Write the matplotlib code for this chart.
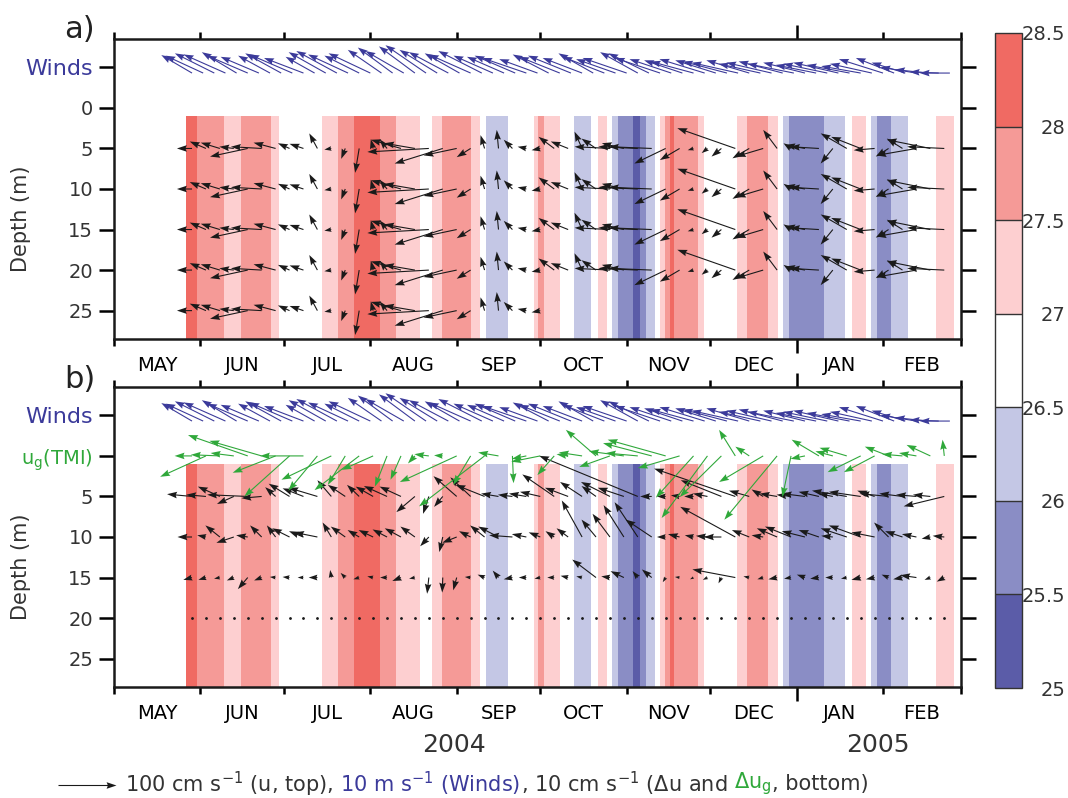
import numpy as np
import matplotlib
matplotlib.use('Agg')
import matplotlib.pyplot as plt
from matplotlib.colors import ListedColormap, BoundaryNorm
from matplotlib.cm import ScalarMappable

# ---- time axis: days since 1 May 2004
month_starts = [0, 31, 61, 92, 123, 153, 184, 214, 245, 276, 304]
month_names = ['MAY', 'JUN', 'JUL', 'AUG', 'SEP', 'OCT', 'NOV', 'DEC', 'JAN', 'FEB']
year_labels = ['2004', '2005']
year_days = [122, 274]

# ---- temperature bands (deg C), edges in days
band_edges = [25.8, 29.8, 39.5, 45.6, 56.4, 59.2, 74.7, 80.4, 86.1, 95.5,
              101.2, 109.8, 114.1, 117.7, 128.1, 131.4, 133.5, 141.4, 146.1, 147.5,
              150.8, 152.0, 154.3, 160.1, 165.1, 171.2, 173.7, 177.0, 178.8, 180.9,
              184.5, 186.3, 188.8, 191.0, 194.2, 196.0, 197.8, 199.6, 201.0, 209.6,
              211.8, 223.6, 227.2, 234.7, 238.3, 240.1, 242.1, 254.8, 262.4, 264.9,
              269.8, 271.7, 273.9, 278.9, 285.0, 295.0, 301.5]
band_temp = [28.2, 27.7, 27.2, 27.7, 27.2, 26.8, 27.2, 27.7, 28.2, 27.7,
             27.2, 26.8, 27.2, 27.7, 27.2, 26.8, 26.2, 26.8, 26.8, 26.8,
             27.2, 27.7, 27.2, 26.8, 26.2, 26.8, 27.2, 26.8, 26.2, 25.7,
             25.7, 25.2, 25.7, 26.2, 26.8, 27.2, 27.7, 28.2, 27.7, 27.2,
             26.8, 27.2, 27.7, 27.2, 26.8, 26.2, 25.7, 26.2, 26.8, 27.2,
             26.8, 26.2, 25.7, 26.2, 26.8, 27.2]
band_depth = [1.0, 28.5]
temp_levels = [25, 25.5, 26, 26.5, 27, 27.5, 28, 28.5]
temp_colors = ['#5b5ca8', '#8a8dc5', '#c4c7e5', '#ffffff', '#fdcfd0', '#f59a97', '#f06a63']

# ---- current samples (5-day)
t_obs = np.arange(28, 299, 5)

# top panel: u (cm/s)
u_top = [-26, -28, -33, -25, -65, -53, -38, -20, -24, -14,
         -12, -7, -7, -4, -13, -52, -53, -106, -83, -57,
         -24, -7, -3, -15, -15, -15, -27, -30, -13, -25,
         -61, -38, -68, -74, -54, -34, -10, -10, -17, -100,
         -29, -47, -24, -13, -34, -50, -21, -45, -51, -36,
         -22, -27, -69, -75, -64]
v_top = [0, 12, 10, 3, -14, 3, 10, 9, 8, 26,
         -2, -18, -42, 16, 16, 15, 9, -6, -26, -12,
         -15, 23, 32, 15, 3, -3, 20, 12, 29, 17,
         3, 9, 3, 3, -26, -20, -3, -8, -14, 35,
         -17, -14, 32, 9, 6, 3, -26, 26, 20, -3,
         -14, 17, -12, 15, 3]
top_depths = [5, 10, 15, 20, 25]
last_day_25m = 153

# winds (m/s), 4-day samples
t_wind = np.arange(28, 301, 4)
u_wind = [-5.3, -6.5, -6.8, -7.2, -6.0, -7.0, -6.6, -5.5, -6.2, -7.4,
          -6.8, -5.0, -6.4, -7.0, -6.9, -6.0, -7.2, -5.8, -6.0, -6.6,
          -6.2, -7.0, -6.5, -6.8, -6.0, -7.2, -7.5, -6.8, -6.4, -7.0,
          -7.6, -6.6, -6.2, -7.0, -7.4, -6.8, -6.0, -7.2, -6.8, -7.6,
          -6.5, -7.0, -7.8, -7.2, -6.6, -7.4, -7.8, -7.0, -7.6, -8.0,
          -7.4, -7.2, -7.8, -7.6, -8.0, -7.2, -7.0, -7.6, -7.8, -7.4,
          -6.8, -7.2, -7.6, -6.6, -5.8, -6.2, -5.6, -5.0, -5.2]
v_wind = [3.1, 3.0, 3.4, 3.2, 3.6, 3.0, 2.8, 3.0, 3.4, 3.2,
          2.6, 2.8, 3.6, 3.8, 3.2, 3.0, 3.4, 4.0, 4.4, 3.8,
          4.6, 4.8, 4.0, 3.6, 3.4, 3.2, 3.8, 3.0, 2.8, 3.0,
          2.6, 2.4, 3.2, 2.8, 3.0, 2.6, 3.4, 2.8, 2.4, 2.6,
          3.6, 3.4, 2.6, 2.4, 2.2, 2.0, 2.4, 2.2, 2.0, 1.8,
          2.2, 1.6, 1.8, 2.0, 1.6, 1.8, 1.4, 1.6, 1.8, 1.4,
          1.2, 1.6, 2.4, 2.6, 1.8, 1.0, 0.6, 0.2, 0.0]
wind_level = -4.3

# bottom panel: shear relative to 20 m (cm/s)
du5 = [-4.3, -3.4, -3.8, -2.9, -7.0, -3.5, -1.8, -3.6, -3.6, -5.0,
       -2.4, -3.0, -2.1, -3.0, -4.0, -3.7, -3.2, -1.0, -1.5, -4.0,
       -3.5, -5.0, -3.0, -2.5, -3.0, -3.5, -5.5, -4.0, -3.8, -2.5,
       -5.0, -4.5, -17.0, -2.0, -1.5, -1.5, -1.6, -2.5, -7.0, -14.0,
       -3.5, -2.0, -3.0, -2.5, -4.0, -3.5, -2.5, -6.0, -5.5, -3.0,
       -5.0, -4.0, -3.5, -3.0, -7.0]
dv5 = [0.4, 0.3, 1.7, -1.3, 0.3, -0.3, 1.6, 2.2, 1.4, 1.5,
       2.8, 2.0, 2.0, 1.7, 1.8, 1.7, -2.7, -3.0, -1.8, 3.5,
       3.3, 2.0, 0.5, 0.3, 0.5, 0.8, 3.8, 1.5, 2.5, 1.8,
       2.5, 1.5, 7.0, 0.0, 0.0, 0.2, 0.0, 0.5, 2.8, 4.8,
       1.0, 1.2, 0.5, 0.3, 0.5, 0.8, 0.5, 1.0, 0.8, 1.0,
       0.5, 0.5, 0.3, 0.3, -1.7]
du10 = [-2.5, -1.5, -2.5, -3.0, -2.0, -2.0, -1.5, -3.0, -2.5, -4.0,
        -1.5, -2.5, -2.0, -2.5, -2.5, -2.8, -2.5, -1.5, -0.6, -2.5,
        -2.0, -2.5, -3.5, -4.0, -2.5, -2.0, -1.5, -2.0, -3.5, -2.5,
        -3.0, -3.5, -4.0, -4.5, -1.5, -2.0, -1.5, -2.0, -3.0, -9.5,
        -3.0, -2.0, -3.5, -4.5, -4.0, -3.5, -2.0, -4.5, -5.5, -4.0,
        -2.5, -3.0, -2.5, -1.5, -2.0]
dv10 = [0.0, 0.3, 2.0, -1.0, 0.3, 2.0, 2.0, 1.5, 1.0, 0.8,
        2.5, 1.8, 1.2, 1.2, 1.3, 1.5, 1.8, -1.6, -2.6, -1.0,
        1.0, 2.0, 1.8, 0.3, 0.5, 0.8, 1.0, 1.5, 6.3, 3.0,
        4.0, 5.5, 6.0, 3.0, 0.0, 0.5, 0.3, 0.2, 0.0, 5.2,
        1.2, 0.3, 1.5, 1.8, 1.0, 1.2, 0.2, 1.5, 2.0, 0.8,
        2.5, 1.0, 0.5, -0.3, 0.2]
du15 = [-1.5, -1.3, -1.0, -1.2, -1.7, -1.3, -1.0, -1.2, -1.0, -1.5,
        -0.2, -0.8, -1.0, -1.0, -1.2, -1.5, -1.0, -0.3, -0.1, -0.6,
        -1.0, -1.2, -1.0, -1.5, -1.3, -1.0, -1.2, -1.3, -1.0, -4.1,
        -1.5, -2.3, -0.9, -1.7, -0.5, -0.8, -0.6, -0.8, -0.5, -7.4,
        -1.0, -1.0, -1.5, -1.2, -1.4, -1.5, -1.3, -1.0, -1.6, -1.5,
        -1.2, -1.6, -2.8, -1.0, -1.3]
dv15 = [-0.4, -0.4, -0.2, -0.5, -2.0, -0.5, 0.1, 0.1, 0.0, 0.0,
        1.3, 0.8, -0.3, 0.2, 0.0, -0.6, -0.2, -2.8, -2.6, -2.2,
        0.1, 0.5, 1.2, -0.3, 0.0, -0.2, 0.0, 0.3, 0.2, 3.1,
        0.2, 1.1, 1.1, 1.4, -0.8, 0.1, -0.3, -0.4, -1.0, 1.4,
        0.2, -0.3, -0.3, -0.2, 0.5, -0.2, 0.0, -0.2, -0.4, -0.3,
        0.5, -0.3, 0.4, -0.4, -0.7]
# geostrophic shear from TMI SST (cm/s)
ug = [-3.0, -7.9, -5.0, -4.0, -10.3, -9.0, -7.4, -7.8, -7.5, -5.0,
      -8.6, -3.0, -7.7, -5.4, -2.1, -1.8, -1.2, -2.5, -1.5, -9.8,
      -3.0, -11.3, -3.5, 0.2, -2.5, -5.0, -2.9, -2.0, -4.0, -5.2,
      -5.3, -6.0, -5.5, -8.4, -10.0, -7.2, -6.5, -7.9, -7.2, -2.8,
      -2.4, -7.6, -9.1, -1.5, -2.5, -4.7, -3.0, -4.7, -5.7, -5.3,
      -4.1, -3.5, -3.0, -4.1, -0.3]
vg = [0.0, -3.6, 0.2, 0.5, 3.6, 2.6, -2.9, -7.0, 0.0, -6.0,
      -4.1, -5.0, -5.9, -2.4, -5.3, -4.1, -1.3, 0.3, 0.1, -4.5,
      -5.0, -8.7, 0.6, -4.7, -0.5, -1.0, -3.3, 0.3, 0.6, 4.5,
      -1.9, 0.8, 0.5, 2.2, 2.8, -2.1, -7.2, -10.7, -7.1, 4.5,
      1.6, -4.5, -11.0, -7.1, -0.5, 2.8, 0.8, 1.4, -2.8, -2.8,
      1.6, 0.3, 0.5, 1.9, 2.8]
ref_depth = 20

wind_color = '#3b3a9a'
green = '#2fa83a'
arrow_black = '#1a1a1a'
text_gray = '#333333'

cmap = ListedColormap(temp_colors)
norm = BoundaryNorm(temp_levels, cmap.N)

fig = plt.figure(figsize=(10.68, 7.98), dpi=100)
ax_a = fig.add_axes([114/1068, 1-339/798, 847/1068, 300/798])
ax_b = fig.add_axes([114/1068, 1-687/798, 847/1068, 300/798])

month_mids = [(month_starts[i] + month_starts[i+1]) / 2 for i in range(len(month_names))]
depth_ticks = [-5, 0, 5, 10, 15, 20, 25]


def style_axis(ax, ylabels):
    ax.set_xlim(month_starts[0], month_starts[-1])
    ax.set_ylim(28.5, -8.5)
    ax.set_yticks(depth_ticks)
    ax.set_yticklabels(ylabels)
    ax.tick_params(axis='y', direction='out', length=11, width=1.8, left=True, right=True,
                   labelsize=14, labelcolor=text_gray, pad=4)
    ax.set_xticks(month_starts)
    ax.set_xticklabels([])
    ax.tick_params(axis='x', which='major', direction='out', length=5, width=1.8,
                   top=True, bottom=True)
    ax.set_xticks(month_mids, minor=True)
    ax.set_xticklabels(month_names, minor=True)
    ax.tick_params(axis='x', which='minor', length=0, labelsize=14, pad=12)
    for sp in ax.spines.values():
        sp.set_linewidth(1.8)
        sp.set_color('#1a1a1a')
    k = month_starts.index(245)
    tk = ax.xaxis.get_major_ticks()[k]
    tk.tick1line.set_markersize(10)
    tk.tick2line.set_markersize(10)
    ax.set_ylabel('Depth (m)', fontsize=15, color=text_gray)
    ax.yaxis.set_label_coords(-0.098, 0.40)
    labs = ax.get_yticklabels()
    labs[0].set_color(wind_color)
    labs[0].set_fontsize(16)


qargs = dict(angles='uv', scale_units='inches', units='inches', pivot='tail',
             width=0.011, headwidth=6, headlength=9, headaxislength=8)

for ax in (ax_a, ax_b):
    ax.pcolormesh(band_edges, band_depth, np.array([band_temp]), cmap=cmap, norm=norm)
    ax.quiver(t_wind, np.full(len(t_wind), wind_level), u_wind, v_wind,
              scale=10/0.58, color=wind_color, zorder=3, **qargs)

# panel a: velocity
ua = np.array(u_top, float)
va = np.array(v_top, float)
q_top = None
for d in top_depths:
    uu, vv = ua.copy(), va.copy()
    if d == 25:
        uu[t_obs > last_day_25m] = np.nan
        vv[t_obs > last_day_25m] = np.nan
    q = ax_a.quiver(t_obs, np.full(len(t_obs), d), np.ma.masked_invalid(uu),
                    np.ma.masked_invalid(vv), scale=100/0.58, color=arrow_black,
                    zorder=3, **qargs)
    if q_top is None:
        q_top = q

# panel b: shear
for d, uu, vv in [(5, du5, dv5), (10, du10, dv10), (15, du15, dv15)]:
    ax_b.quiver(t_obs, np.full(len(t_obs), d), uu, vv, scale=10/0.58,
                color=arrow_black, zorder=3, **qargs)
ax_b.quiver(t_obs, np.zeros(len(t_obs)), ug, vg, scale=10/0.58, color=green,
            zorder=4, **qargs)
ax_b.plot(t_obs, np.full(len(t_obs), ref_depth), ls='none', marker='o', ms=1.0,
          color=arrow_black)

style_axis(ax_a, ['Winds', '0', '5', '10', '15', '20', '25'])
style_axis(ax_b, ['Winds', 'u$_\\mathregular{g}$(TMI)', '5', '10', '15', '20', '25'])
ax_b.get_yticklabels()[1].set_color(green)

fig.text(64/1068, 1-29/798, 'a)', fontsize=22, color='#222222', va='center', ha='left')
fig.text(64/1068, 1-380/798, 'b)', fontsize=22, color='#222222', va='center', ha='left')

for lab, d in zip(year_labels, year_days):
    ax_b.text(d, -0.195, lab, transform=ax_b.get_xaxis_transform(), ha='center',
              va='center', fontsize=18, color=text_gray)

# colorbar
cax = fig.add_axes([995/1068, 1-688/798, 27/1068, 655/798])
sm = ScalarMappable(norm=norm, cmap=cmap)
cb = fig.colorbar(sm, cax=cax, ticks=temp_levels, drawedges=True)
cb.outline.set_linewidth(1.0)
cb.outline.set_edgecolor('#333333')
cb.dividers.set_linewidth(1.0)
cb.dividers.set_color('#333333')
cb.set_ticklabels(['25', '25.5', '26', '26.5', '27', '27.5', '28', '28.5'])
cax.tick_params(length=0, pad=31, labelsize=14, labelcolor=text_gray)
for lbl in cax.get_yticklabels():
    lbl.set_horizontalalignment('right')

# reference arrow and caption
ax_b.quiverkey(q_top, 116/1068, 1-785/798, 100, '', coordinates='figure',
               labelpos='E', color=arrow_black)
fig.canvas.draw()
rend = fig.canvas.get_renderer()
parts = [('100 cm s$^{-1}$ (u, top),', text_gray, 7),
         ('10 m s$^{-1}$ (Winds)', wind_color, 0),
         (', 10 cm s$^{-1}$ ($\\Delta$u and', text_gray, 7),
         ('$\\Delta$u$_\\mathregular{g}$', green, 0),
         (', bottom)', text_gray, 0)]
x = 125
for s, c, gap in parts:
    t = fig.text(x/1068, 1-784/798, s, color=c, fontsize=15, va='center', ha='left')
    bb = t.get_window_extent(rend)
    x = bb.x1 + gap

fig.savefig('out.png', dpi=100)
